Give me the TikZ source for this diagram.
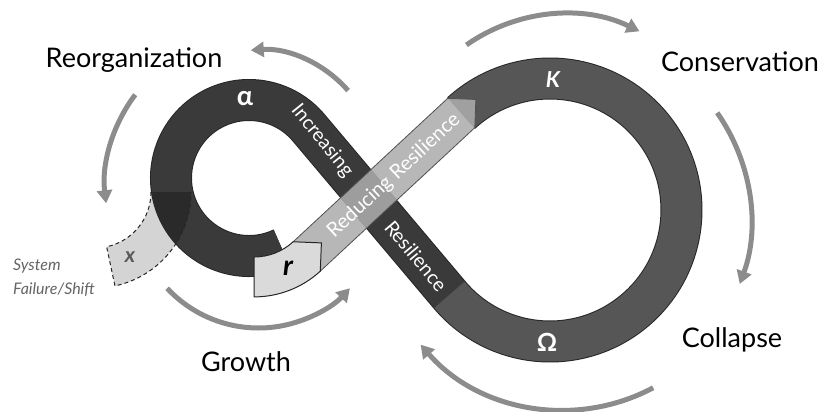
\documentclass[tikz,border=0pt]{standalone}
\usepackage{fontspec}
\setmainfont{Lato}
\usetikzlibrary{arrows.meta,calc}
\definecolor{arrowgray}{RGB}{140,140,140}
\definecolor{darkband}{RGB}{58,58,58}
\definecolor{midband}{RGB}{86,86,86}
\definecolor{bandedge}{RGB}{38,38,38}
\definecolor{lightband}{RGB}{172,172,172}
\definecolor{lightedge}{RGB}{80,80,80}
\definecolor{rboxfill}{RGB}{218,218,218}
\definecolor{xfill}{RGB}{212,212,212}
\definecolor{overlapdark}{RGB}{42,42,42}
\definecolor{failtext}{RGB}{100,100,100}
\definecolor{xtext}{RGB}{90,90,90}
\begin{document}
\begin{tikzpicture}[x=1pt,y=-1pt,
  cyclearrow/.style={draw=arrowgray, line width=5pt, -{Triangle[length=13pt,width=15pt]}},
  phase/.style={font=\fontsize{27}{30}\selectfont, text=black, inner sep=0pt},
  bandtext/.style={font=\fontsize{19.5}{22}\selectfont, text=white, inner sep=0pt},
  greek/.style={font=\fontsize{27}{30}\selectfont\bfseries, text=white, inner sep=0pt},
  failnote/.style={font=\fontsize{16}{20}\selectfont\itshape, text=failtext, anchor=base west, inner sep=0pt},
  bandline/.style={line width=40pt, line cap=butt, line join=round},
]
\useasboundingbox (0,0) rectangle (827,412);

% centres
\coordinate (CL) at (249,178);
\coordinate (CR) at (550,210);
\coordinate (C2) at (254,199);
\coordinate (CX) at (95,192);
\coordinate (TL) at (308.7,127.8);
\coordinate (TR) at (449.4,294.7);
\coordinate (A1) at (293.1,241.84);
\coordinate (A2) at (320.3,271.16);
\coordinate (B1) at (447.6,98.39);
\coordinate (B2) at (474.8,127.71);
\coordinate (tipT) at (475.86,99.45);
\coordinate (tipR) at (321.4,242.9);

% cycle arrows
\draw[cyclearrow] ($(259,168)+(-41:118)$) arc[start angle=-41, end angle=-94, radius=118];
\draw[cyclearrow] ($(255,185)+(217:150)$) arc[start angle=217, end angle=173, radius=150];
\draw[cyclearrow] ($(258.5,203)+(137:125)$) arc[start angle=137, end angle=43, radius=125];
\draw[cyclearrow] ($(564.5,185)+(-125:171)$) arc[start angle=-125, end angle=-64, radius=171];
\draw[cyclearrow] ($(564,220)+(-35:187)$) arc[start angle=-35, end angle=20, radius=187];
\draw[cyclearrow] ($(564,220)+(62:190)$) arc[start angle=62, end angle=139, radius=190];

% x piece fill
\fill[xfill] (151,192) arc[start angle=0, end angle=78, radius=56]
  -- ($(CX)+(78:96)$) arc[start angle=78, end angle=0, radius=96] -- cycle;

% dark band
\draw[bandline, line width=42pt, bandedge]
  ($(CL)+(65:78)$) arc[start angle=65, end angle=319.9, radius=78] -- (TR)
  arc[start angle=139.9, end angle=-132.5, radius=131.5];
\draw[bandline, darkband]
  ($(CL)+(65:78)$) arc[start angle=65, end angle=319.9, radius=78] -- (TR);
\draw[bandline, midband]
  (TR) arc[start angle=139.9, end angle=-132.5, radius=131.5];

% overlap of x piece with loop
\begin{scope}
  \clip (151,192) arc[start angle=0, end angle=78, radius=56]
    -- ($(CX)+(78:96)$) arc[start angle=78, end angle=0, radius=96] -- cycle;
  \draw[bandline, overlapdark]
    ($(CL)+(65:78)$) arc[start angle=65, end angle=319.9, radius=78];
\end{scope}
\draw[dashed, line width=1pt, bandedge, dash pattern=on 4pt off 3pt]
  (151,192) arc[start angle=0, end angle=78, radius=56]
  -- ($(CX)+(78:96)$) arc[start angle=78, end angle=0, radius=96];

% reducing resilience band
\filldraw[fill=lightband, fill opacity=0.87, draw=lightedge, line width=0.8pt, line join=miter]
  (A1) -- (A2) -- (B2) -- (tipT) -- (B1) -- cycle;

% r box
\filldraw[fill=rboxfill, draw=bandedge, line width=1pt, line join=miter]
  (254,257) arc[start angle=90, end angle=47.5, radius=58] -- (tipR) -- (A2)
  arc[start angle=47.5, end angle=90, radius=98] -- cycle;

% phase labels
\node[phase] (reorg) at (134,60) {Reorganization};
\node[phase] (cons) at (740,62) {Conservation};
\node[phase] (coll) at (732,340) {Collapse};
\node[phase] (grow) at (246,362) {Growth};
\node[failnote] (fail1) at (13,270) {System};
\node[failnote] (fail2) at (13,294) {Failure/Shift};

% band labels
\node[greek] (alpha) at (245,99) {α};
\node[greek, font=\fontsize{22}{26}\selectfont\bfseries\itshape] (kappa) at (553,80) {K};
\node[greek, font=\fontsize{25}{28}\selectfont\bfseries] (omega) at (547,342) {Ω};
\node[bandtext, rotate=-51] (inc) at (322,141) {Increasing};
\node[bandtext, rotate=-50] (res) at (416,256) {Resilience};
\node[bandtext, font=\fontsize{20}{23}\selectfont, rotate=42.9] (red) at (394,176) {Reducing Resilience};
\node[font=\fontsize{28}{32}\selectfont\bfseries\itshape, text=black, inner sep=0pt] (r) at (288,268) {r};
\node[font=\fontsize{21}{24}\selectfont\bfseries\itshape, text=xtext, inner sep=0pt] (x) at (130,257) {x};
\end{tikzpicture}
\end{document}
